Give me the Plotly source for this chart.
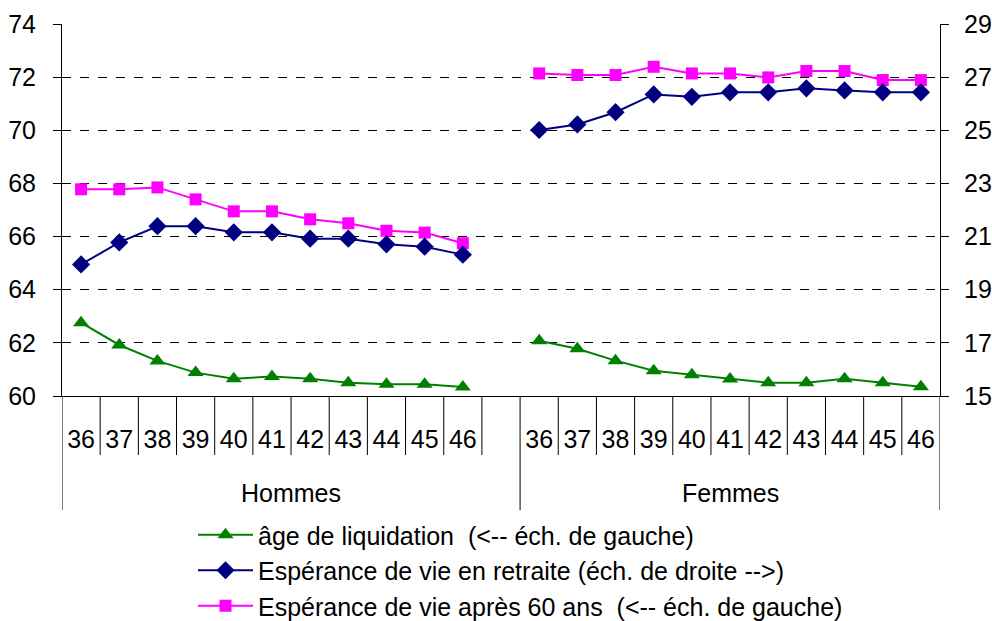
import plotly.graph_objects as go

ages = [36, 37, 38, 39, 40, 41, 42, 43, 44, 45, 46]
groups = ["Hommes", "Femmes"]

age_liq_h = [62.76, 61.92, 61.32, 60.88, 60.65, 60.73, 60.65, 60.50, 60.44, 60.44, 60.34]
age_liq_f = [62.08, 61.78, 61.33, 60.95, 60.80, 60.64, 60.50, 60.50, 60.65, 60.50, 60.35]

esp_retr_h = [19.95, 20.78, 21.39, 21.39, 21.16, 21.16, 20.92, 20.92, 20.71, 20.62, 20.32]
esp_retr_f = [25.01, 25.22, 25.68, 26.35, 26.26, 26.43, 26.43, 26.58, 26.50, 26.43, 26.43]

esp_60_h = [67.78, 67.78, 67.85, 67.40, 66.95, 66.95, 66.65, 66.50, 66.22, 66.15, 65.75]
esp_60_f = [72.14, 72.08, 72.08, 72.39, 72.14, 72.14, 71.99, 72.23, 72.23, 71.89, 71.89]

left_ticks = [60, 62, 64, 66, 68, 70, 72, 74]
right_ticks = [15, 17, 19, 21, 23, 25, 27, 29]

series_names = [
    "âge de liquidation  (<-- éch. de gauche)",
    "Espérance de vie en retraite (éch. de droite -->)",
    "Espérance de vie après 60 ans  (<-- éch. de gauche)",
]

# category positions: Hommes 0..10, blank slot 11, Femmes 12..22
n = len(ages)
x_h = list(range(n))
x_f = [n + 1 + i for i in range(n)]
x_all = x_h + [n] + x_f

def join(h, f):
    return list(h) + [None] + list(f)

FONT = "Liberation Sans, Arial, sans-serif"

fig = go.Figure()
fig.add_trace(go.Scatter(
    x=x_all, y=join(age_liq_h, age_liq_f), name=series_names[0],
    mode="lines+markers", line=dict(color="#008000", width=2),
    marker=dict(symbol="triangle-up", size=14, color="#008000"),
    connectgaps=False, yaxis="y"))
fig.add_trace(go.Scatter(
    x=x_all, y=join(esp_retr_h, esp_retr_f), name=series_names[1],
    mode="lines+markers", line=dict(color="#000080", width=2),
    marker=dict(symbol="diamond", size=14, color="#000080"),
    connectgaps=False, yaxis="y2"))
fig.add_trace(go.Scatter(
    x=x_all, y=join(esp_60_h, esp_60_f), name=series_names[2],
    mode="lines+markers", line=dict(color="#FF00FF", width=2),
    marker=dict(symbol="square", size=12, color="#FF00FF"),
    connectgaps=False, yaxis="y"))

total = 2 * n + 1
shapes = []
H_short = -(455 - 396) / 372
H_long = -(510 - 396) / 372
for k in range(total + 1):
    xb = k - 0.5
    long_line = (k == 0) or (k == n + 1) or (k == total)
    shapes.append(dict(type="line", xref="x", yref="paper", x0=xb, x1=xb,
                       y0=0, y1=H_long if long_line else H_short,
                       line=dict(color="black", width=1)))

annotations = [
    dict(x=(-0.5 + n + 0.5) / 2, y=-(493 - 396) / 372, xref="x", yref="paper",
         yanchor="middle", xanchor="center",
         text=groups[0], showarrow=False, font=dict(size=25, color="black", family=FONT)),
    dict(x=(n + 0.5 + total - 0.5) / 2, y=-(493 - 396) / 372, xref="x", yref="paper",
         yanchor="middle", xanchor="center",
         text=groups[1], showarrow=False, font=dict(size=25, color="black", family=FONT)),
]

fig.update_layout(
    width=992, height=621,
    margin=dict(l=62, r=52, t=24, b=225, autoexpand=False),
    paper_bgcolor="white", plot_bgcolor="white",
    font=dict(family=FONT, color="black", size=25),
    xaxis=dict(range=[-0.5, total - 0.5], tickvals=x_h + x_f,
               ticktext=[str(a) for a in ages] * 2, ticks="",
               showgrid=False, zeroline=False, showline=True, linecolor="black",
               linewidth=1, ticklabelstandoff=21, tickfont=dict(size=25),
               automargin=False),
    yaxis=dict(range=[60, 74], tickvals=left_ticks, showgrid=True,
               gridcolor="black", griddash="dash", gridwidth=1,
               zeroline=False, showline=True, linecolor="black", ticks="outside",
               ticklen=8, tickcolor="black", tickfont=dict(size=25),
               ticklabelstandoff=12, automargin=False),
    yaxis2=dict(range=[15, 29], tickvals=right_ticks, overlaying="y", side="right",
                showgrid=False, zeroline=False, showline=True, linecolor="black",
                ticks="outside", ticklen=8, tickcolor="black", tickfont=dict(size=25),
                ticklabelstandoff=10, automargin=False),
    legend=dict(x=(193 - 62) / 878, y=-(512 - 396) / 372, xanchor="left", yanchor="top",
                font=dict(size=25, family=FONT), bgcolor="rgba(0,0,0,0)",
                tracegroupgap=0, itemwidth=55),
    showlegend=True,
    shapes=shapes,
    annotations=annotations,
)

fig.write_html(
    "out.html",
    config={"displayModeBar": False},
    post_script="document.body.style.margin='0px';document.body.style.overflow='hidden';",
)
